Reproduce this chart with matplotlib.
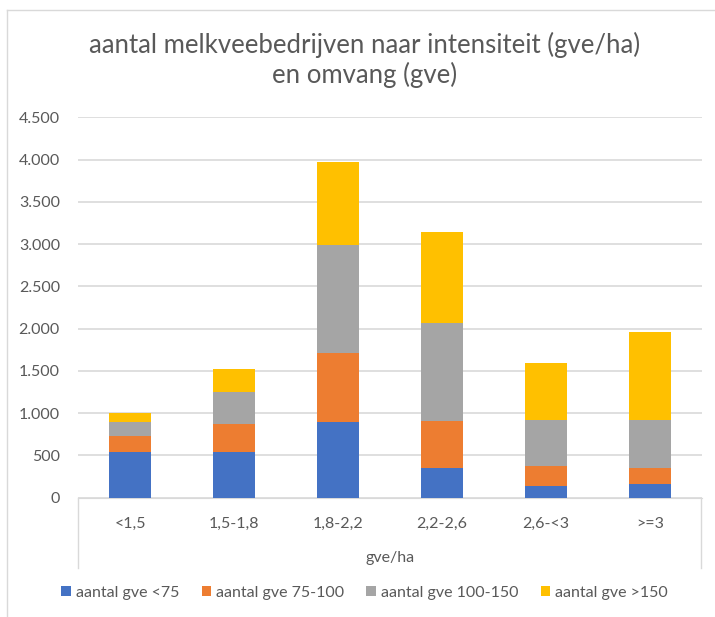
import matplotlib.pyplot as plt
import numpy as np
from matplotlib.lines import Line2D

# Data
categories = ['<1,5', '1,5-1,8', '1,8-2,2', '2,2-2,6', '2,6-<3', '>=3']
gve_lt75 = [535, 535, 890, 355, 140, 160]
gve_75_100 = [190, 335, 825, 555, 235, 195]
gve_100_150 = [175, 385, 1270, 1160, 545, 565]
gve_gt150 = [105, 265, 990, 1075, 670, 1040]

series_names = ['aantal gve <75', 'aantal gve 75-100', 'aantal gve 100-150', 'aantal gve >150']
colors = ['#4472C4', '#ED7D31', '#A5A5A5', '#FFC000']
text_color = '#595959'

plt.rcParams['font.family'] = ['Lato', 'DejaVu Sans']

fig = plt.figure(figsize=(7.15, 6.17), dpi=100)
ax = fig.add_axes([78 / 715, 119.3 / 617, 624 / 715, 380.4 / 617])

x = np.arange(len(categories))
bottom = np.zeros(len(categories))
for name, vals, col in zip(series_names, [gve_lt75, gve_75_100, gve_100_150, gve_gt150], colors):
    ax.bar(x, vals, 0.4, bottom=bottom, color=col, label=name, zorder=3)
    bottom += np.array(vals)

ax.set_xlim(-0.5, len(categories) - 0.5)
ax.set_ylim(0, 4500)
ax.set_yticks(range(0, 4501, 500))
ax.set_yticklabels([f'{v:,}'.replace(',', '.') for v in range(0, 4501, 500)])
ax.yaxis.grid(True, color='#D9D9D9', linewidth=1.2, zorder=0)
ax.set_xticks(x)
ax.set_xticklabels(categories)
ax.tick_params(axis='both', length=0, labelsize=11.5, labelcolor=text_color)
ax.tick_params(axis='y', pad=13)
ax.tick_params(axis='x', pad=14)
for s in ['top', 'left', 'right']:
    ax.spines[s].set_visible(False)
ax.spines['bottom'].set_color('#D9D9D9')

# box around the category labels
for xf in [78 / 715, 701 / 715]:
    fig.add_artist(Line2D([xf, xf], [119.3 / 617, 49 / 617], color='#D9D9D9', linewidth=1))

ax.set_xlabel('gve/ha', fontsize=11.5, color=text_color, labelpad=14)

# outer chart border (left and top edges visible)
fig.add_artist(Line2D([7 / 715, 7 / 715], [0, 607 / 617], color='#D9D9D9', linewidth=1))
fig.add_artist(Line2D([7 / 715, 1], [607 / 617, 607 / 617], color='#D9D9D9', linewidth=1))

fig.text(0.51, 557 / 617, 'aantal melkveebedrijven naar intensiteit (gve/ha)\nen omvang (gve)',
         ha='center', va='center', fontsize=18.5, color=text_color, linespacing=1.15)

fig.legend(loc='center', bbox_to_anchor=(0.51, 24 / 617), ncol=4, frameon=False,
           fontsize=11.5, labelcolor=text_color, handlelength=0.6, handleheight=0.6,
           handletextpad=0.3, columnspacing=1.4)

fig.savefig('out.png', dpi=100)
